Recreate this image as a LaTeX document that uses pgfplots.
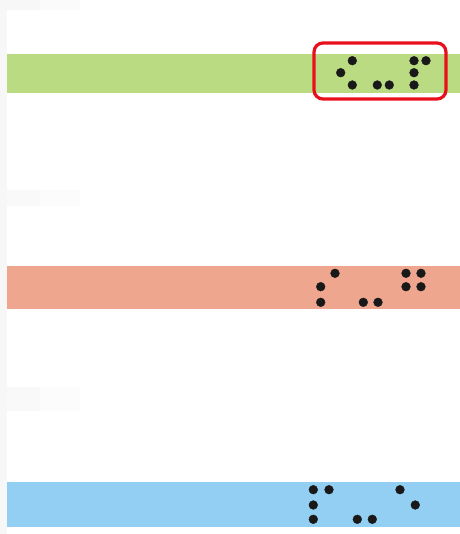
\documentclass[border=0pt]{standalone}
\usepackage{pgfplots}
\pgfplotsset{compat=1.18}
\definecolor{bgreen}{RGB}{186,219,130}
\definecolor{bsalmon}{RGB}{238,166,143}
\definecolor{bblue}{RGB}{146,207,242}
\definecolor{bred}{RGB}{232,16,26}
\begin{document}
\begin{tikzpicture}
\begin{axis}[
  width=464bp, height=534bp, scale only axis,
  xmin=0, xmax=464, ymin=0, ymax=534, y dir=reverse,
  hide axis, clip=false, axis on top=false]
% faint gray header fades
\addplot[draw=none, fill=black!3] coordinates {(0,0) (40,0) (40,10) (0,10)} -- cycle;
\addplot[draw=none, fill=black!1.5] coordinates {(40,0) (80,0) (80,10) (40,10)} -- cycle;
\addplot[draw=none, fill=black!3] coordinates {(0,10) (7,10) (7,534) (0,534)} -- cycle;
\addplot[draw=none, fill=black!2.5] coordinates {(7,190) (40,190) (40,206) (7,206)} -- cycle;
\addplot[draw=none, fill=black!1.2] coordinates {(40,190) (80,190) (80,206) (40,206)} -- cycle;
\addplot[draw=none, fill=black!2.5] coordinates {(7,387) (40,387) (40,411) (7,411)} -- cycle;
\addplot[draw=none, fill=black!1.2] coordinates {(40,387) (80,387) (80,411) (40,411)} -- cycle;
% bands
\addplot[draw=none, fill=bgreen] coordinates {(7,54) (460,54) (460,93) (7,93)} -- cycle;
\addplot[draw=none, fill=bsalmon] coordinates {(7,266) (460,266) (460,309) (7,309)} -- cycle;
\addplot[draw=none, fill=bblue] coordinates {(7,482) (460,482) (460,527) (7,527)} -- cycle;
% red highlight
\addplot[bred, line width=3.2bp, rounded corners=9bp] coordinates {(314,43) (446,43) (446,99) (314,99)} -- cycle;
% dots
\addplot[only marks, mark=*, mark size=4.4pt, black!90] coordinates {
(352.3,60.7) (340.7,72.7) (352.3,85) (377.3,85) (389.3,85)
(414,60.7) (426,60.7) (414,72.7) (414,85)};
\addplot[only marks, mark=*, mark size=4.4pt, black!90] coordinates {
(335,273.3) (320.7,286.7) (320.7,302.3) (363.3,302.3) (378,302.3)
(406,273.3) (421,273.3) (406,286.7) (421,286.7)};
\addplot[only marks, mark=*, mark size=4.4pt, black!90] coordinates {
(313.3,489.7) (329,489.7) (313.3,505) (313.3,519.3) (357.3,519.3)
(372.3,519.3) (400,489.7) (415.3,505)};
\end{axis}
\end{tikzpicture}
\end{document}
